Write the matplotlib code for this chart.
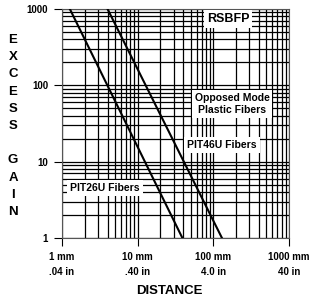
import numpy as np
import matplotlib
matplotlib.use("Agg")
from matplotlib import pyplot as plt
from matplotlib.ticker import LogLocator, NullFormatter

plt.rcParams['font.family'] = ['Liberation Sans', 'DejaVu Sans']
plt.rcParams['font.weight'] = 'bold'

# curves (distance mm, excess gain)
pit26u_x = [1.27, 39.0]
pit26u_y = [1000, 1]
pit46u_x = [4.0, 130.0]
pit46u_y = [1000, 1]

xticks = [1, 10, 100, 1000]
xlabels = ["1 mm\n.04 in", "10 mm\n.40 in", "100 mm\n4.0 in", "1000 mm\n40 in"]
yticks = [1, 10, 100, 1000]
ylabels = ["1", "10", "100", "1000"]

fig = plt.figure(figsize=(3.10, 3.03), dpi=100)
ax = fig.add_axes([62/310, 1-238/303, 227/310, 229/303])

ax.set_xscale('log')
ax.set_yscale('log')
ax.set_xlim(1, 1000)
ax.set_ylim(1, 1000)

ax.xaxis.set_minor_locator(LogLocator(base=10, subs=np.arange(2, 10)))
ax.yaxis.set_minor_locator(LogLocator(base=10, subs=np.arange(2, 10)))
ax.xaxis.set_minor_formatter(NullFormatter())
ax.yaxis.set_minor_formatter(NullFormatter())
ax.grid(True, which='both', color='black', linewidth=0.9)
ax.set_axisbelow(True)

ax.plot(pit26u_x, pit26u_y, color='black', linewidth=1.5, zorder=3)
ax.plot(pit46u_x, pit46u_y, color='black', linewidth=1.5, zorder=3)

ax.set_xticks(xticks)
ax.set_xticklabels(xlabels, fontsize=7, linespacing=1.7)
ax.set_yticks(yticks)
ax.set_yticklabels(ylabels, fontsize=7)
ax.tick_params(which='major', length=6, width=0.8, color='black', pad=4)
ax.tick_params(which='minor', length=0)
for s in ax.spines.values():
    s.set_linewidth(0.8)
    s.set_color('#555555')

box = dict(facecolor='white', edgecolor='none', pad=2)

def label(px, py, s, fs=7.5):
    x, y = fig.transFigure.inverted().transform((px, 303 - py))
    fig.text(x, y, s, fontsize=fs, ha='center', va='center',
             bbox=box, zorder=5, linespacing=1.3)

label(228, 19, "RSBFP", 9)
label(232, 104, "Opposed Mode\nPlastic Fibers", 7.5)
label(222, 145, "PIT46U Fibers", 7.5)
label(105, 188, "PIT26U Fibers", 7.5)

fig.text(169/310, 1-291/303, "DISTANCE", fontsize=9.5, ha='center', va='center')

letters = "EXCESS GAIN"
y0 = 40
for i, ch in enumerate(letters):
    if ch == ' ':
        continue
    fig.text(13/310, 1-(y0 + i*17.2)/303, ch, fontsize=9.5, ha='center', va='center')

fig.savefig("out.png", dpi=100)
